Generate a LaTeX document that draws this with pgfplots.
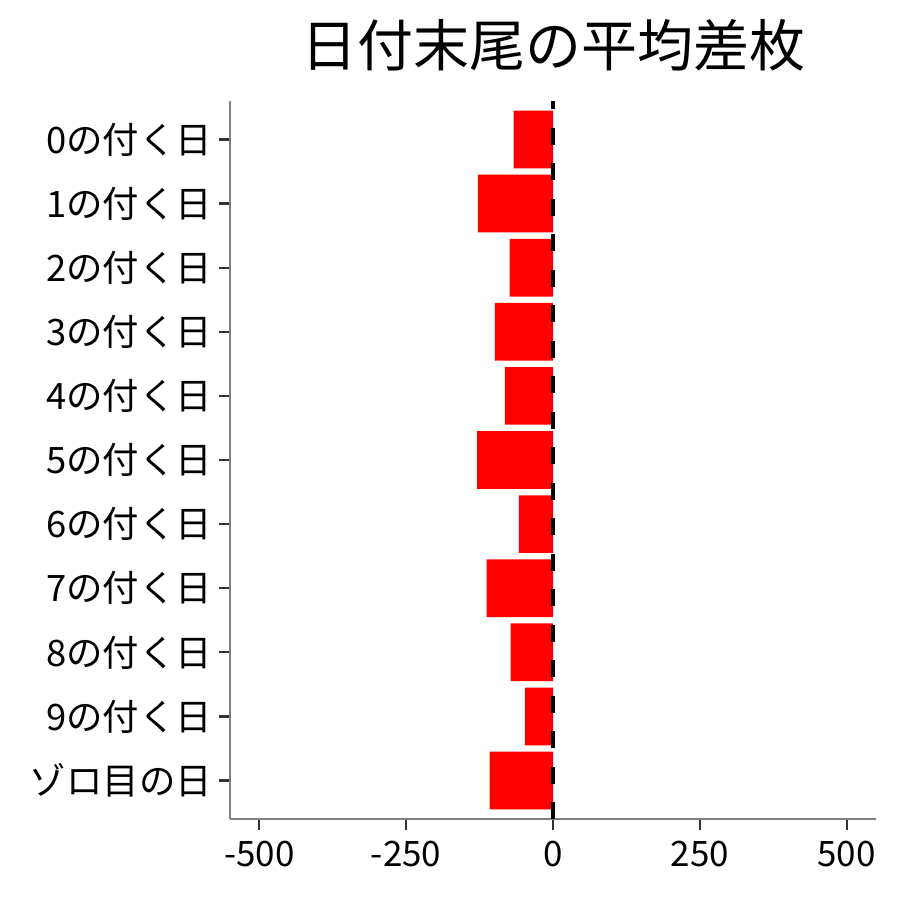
\documentclass[border=0pt]{standalone}
\usepackage{fontspec}
\setmainfont{Noto Sans CJK JP}
\usepackage{pgfplots}
\pgfplotsset{compat=1.18}
\definecolor{axisgray}{HTML}{7F7F7F}
\definecolor{tickgray}{HTML}{333333}
\begin{document}
\begin{tikzpicture}
% 1px of the reference = 0.5pt
\path[use as bounding box] (0,0) rectangle (450pt,450pt);
\begin{axis}[
    at={(115pt,40.5pt)}, anchor=south west,
    scale only axis,
    width=323pt, height=359pt,
    xmin=-550, xmax=550,
    ymin=-0.6, ymax=10.6,
    y dir=reverse,
    axis x line*=bottom, axis y line*=left,
    axis line style={axisgray, line width=0.7pt},
    x axis line style={-}, y axis line style={-},
    xtick={-500,-250,0,250,500},
    xticklabels={-500,-250,0,250,500},
    ytick={0,...,10},
    yticklabels={0の付く日,1の付く日,2の付く日,3の付く日,4の付く日,5の付く日,6の付く日,7の付く日,8の付く日,9の付く日,ゾロ目の日},
    tick align=outside,
    major tick length=5.5pt,
    tick style={tickgray, line width=1.1pt},
    ticklabel style={text=black},
    xticklabel style={yshift=-2pt, font=\fontsize{17.5pt}{20pt}\selectfont},
    yticklabel style={xshift=0pt, font=\fontsize{18.2pt}{21pt}\selectfont},
    title={日付末尾の平均差枚},
    title style={at={(0.5,1)}, anchor=center, yshift=22pt,
        font=\fontsize{28pt}{33pt}\selectfont},
    clip=false,
]
\addplot[xbar, bar width=0.9, fill=red, draw=none] coordinates {
    (-67,0) (-128,1) (-74,2) (-99,3) (-82,4) (-129,5)
    (-58,6) (-113,7) (-72,8) (-48,9) (-108,10)
};
\addplot[black, line width=2pt, dash pattern=on 8.5pt off 9.25pt, forget plot]
    coordinates {(0,10.6) (0,-0.6)};
\end{axis}
\end{tikzpicture}
\end{document}
